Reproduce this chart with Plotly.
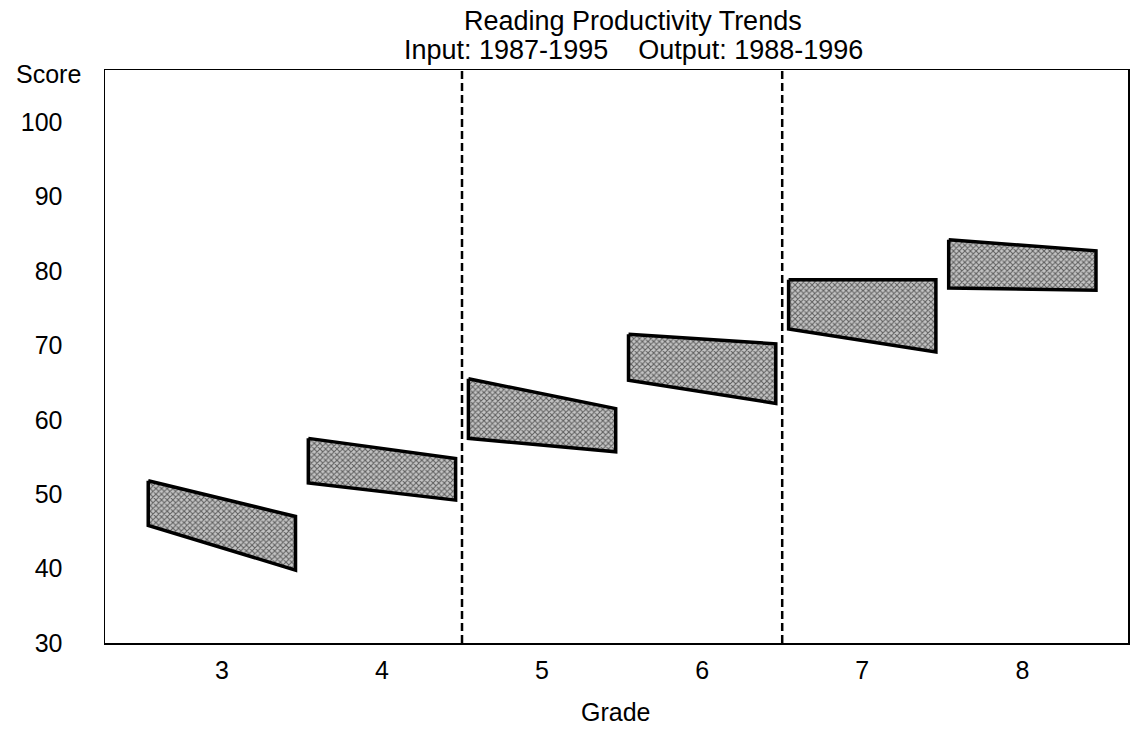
import plotly.graph_objects as go

# Data
grades = [3, 4, 5, 6, 7, 8]
input_low = [45.8, 51.5, 57.5, 65.3, 72.2, 77.7]
input_high = [51.8, 57.5, 65.5, 71.5, 78.8, 84.2]
output_low = [39.8, 49.2, 55.7, 62.2, 69.1, 77.4]
output_high = [47.0, 54.8, 61.5, 70.2, 78.8, 82.7]
y_ticks = [30, 40, 50, 60, 70, 80, 90, 100]
dividers = [4.5, 6.5]

title_line1 = "Reading Productivity Trends"
title_line2 = "Input: 1987-1995&nbsp;&nbsp;&nbsp;&nbsp;Output: 1988-1996"

HALF = 0.46
FONT = "Liberation Sans, Arial, sans-serif"

# figure geometry
W, H = 1142, 730
ML, MR, MT, MB = 105, 14, 70, 87
PLOT_W = W - ML - MR
PLOT_H = H - MT - MB


def px_x(x):
    return (x - ML) / PLOT_W


def px_y(y):
    return (H - MB - y) / PLOT_H


fig = go.Figure()
for g, il, ih, ol, oh in zip(grades, input_low, input_high, output_low, output_high):
    fig.add_trace(go.Scatter(
        x=[g - HALF, g + HALF, g + HALF, g - HALF, g - HALF],
        y=[ih, oh, ol, il, ih],
        mode="lines",
        fill="toself",
        fillcolor="#9a9a9a",
        fillpattern=dict(shape="x", fgcolor="#5e5e5e", bgcolor="#c4c4c4",
                         size=4, solidity=0.45, fillmode="replace"),
        line=dict(color="black", width=3.5),
        showlegend=False,
        hoverinfo="skip",
    ))

for d in dividers:
    fig.add_shape(type="line", xref="x", yref="paper", x0=d, x1=d, y0=0, y1=1,
                  line=dict(color="black", width=2.5, dash="8px,4px"))

fig.add_annotation(text="Score", xref="paper", yref="paper",
                   x=px_x(48), y=px_y(74), xanchor="center", yanchor="middle",
                   showarrow=False, font=dict(size=25, color="black", family=FONT))

fig.add_annotation(text=title_line1, xref="paper", yref="paper",
                   x=px_x(633), y=px_y(21), xanchor="center", yanchor="middle",
                   showarrow=False, font=dict(size=27, color="black", family=FONT))
fig.add_annotation(text=title_line2, xref="paper", yref="paper",
                   x=px_x(633), y=px_y(50), xanchor="center", yanchor="middle",
                   showarrow=False, font=dict(size=27, color="black", family=FONT))

fig.add_annotation(text="Grade", xref="paper", yref="paper",
                   x=px_x(615), y=px_y(712), xanchor="center", yanchor="middle",
                   showarrow=False, font=dict(size=25, color="black", family=FONT))

fig.update_layout(
    width=W, height=H,
    margin=dict(l=ML, r=MR, t=MT, b=MB, autoexpand=False),
    paper_bgcolor="white", plot_bgcolor="white",
    font=dict(family=FONT, size=25, color="black"),
    xaxis=dict(range=[2.27, 8.66], tickvals=grades, ticktext=[str(g) for g in grades],
               showline=True, mirror=True, linecolor="black", linewidth=1.5,
               showgrid=False, zeroline=False, ticks="", ticklabelstandoff=4),
    yaxis=dict(range=[30, 107], tickvals=y_ticks, ticktext=[str(v) for v in y_ticks],
               showline=True, mirror=True, linecolor="black", linewidth=1.5,
               showgrid=False, zeroline=False, ticks="", ticklabelstandoff=36),
)

fig.write_html("out.html",
               config={"displayModeBar": False, "staticPlot": True},
               post_script="document.body.style.margin='0px';document.body.style.overflow='hidden';")
